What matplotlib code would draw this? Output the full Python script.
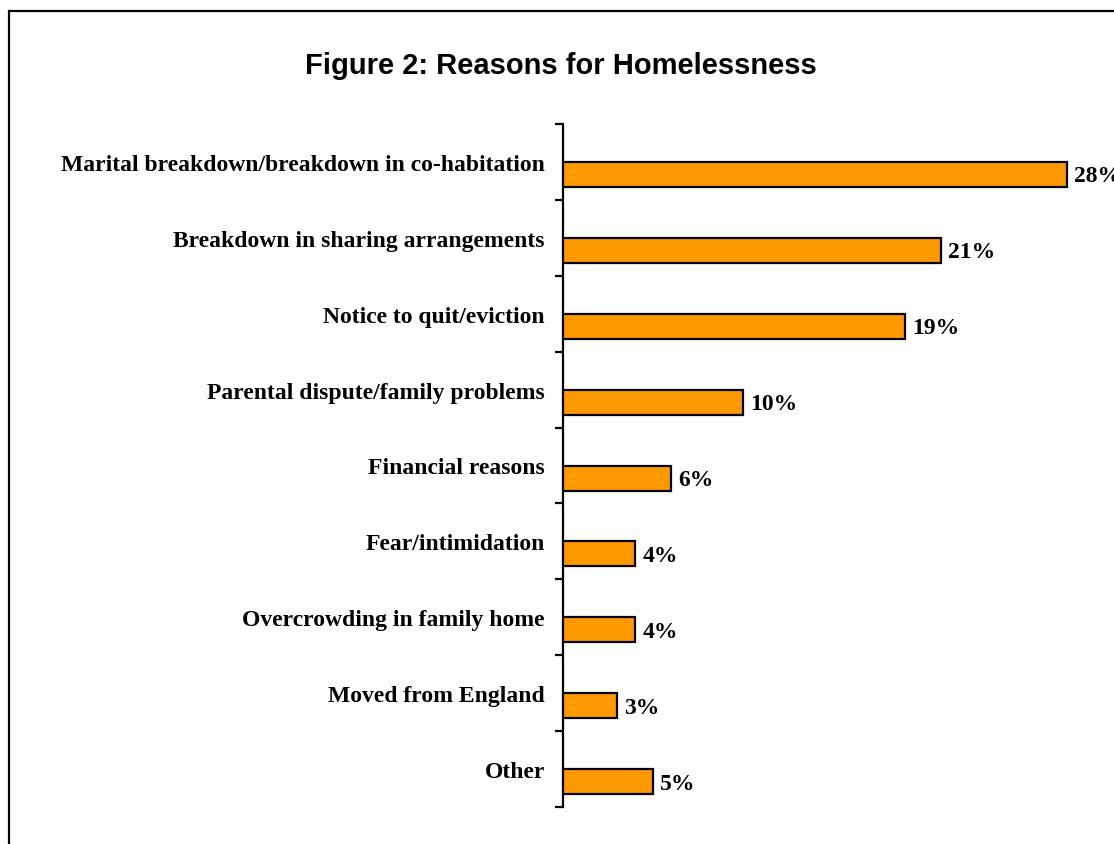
import matplotlib
matplotlib.use("Agg")
import matplotlib.pyplot as plt
from matplotlib.patches import Rectangle
import numpy as np

categories = [
    "Marital breakdown/breakdown in co-habitation",
    "Breakdown in sharing arrangements",
    "Notice to quit/eviction",
    "Parental dispute/family problems",
    "Financial reasons",
    "Fear/intimidation",
    "Overcrowding in family home",
    "Moved from England",
    "Other",
]
values = [28, 21, 19, 10, 6, 4, 4, 3, 5]
value_labels = ["28%", "21%", "19%", "10%", "6%", "4%", "4%", "3%", "5%"]

W, H = 1114, 845
fig = plt.figure(figsize=(W / 100, H / 100), dpi=100)
fig.patch.set_facecolor("white")

# border frame (open on right/bottom, cut by image edge as in the reference)
fig.patches.append(Rectangle((9 / W, -0.1), 1.2, 1 - 12 / H + 0.1, transform=fig.transFigure,
                             fill=False, edgecolor="black", linewidth=1.6, zorder=0))

ax = fig.add_axes([563 / W, 1 - 808 / H, 540 / W, (808 - 125) / H])
n = len(categories)
y = np.arange(n)
bar_h = 0.33
ax.barh(y + bar_h / 2, values, height=bar_h, color="#FF9900", edgecolor="black",
        linewidth=1.6, zorder=3)
ax.set_ylim(n - 0.5, -0.5)
ax.set_xlim(0, 30)

serif = ["Liberation Serif", "DejaVu Serif"]
for yi, v, lab in zip(y, values, value_labels):
    ax.text(v + 0.4, yi + bar_h / 2 + 0.02, lab, va="center", ha="left",
            fontsize=17, fontweight="bold", family=serif, clip_on=False)

ax.set_yticks(y)
ax.set_yticklabels(categories, fontsize=17, fontweight="bold", family=serif)
ax.tick_params(axis="y", which="major", length=0, pad=13)
ax.set_yticks(np.arange(-0.5, n, 1.0), minor=True)
ax.tick_params(axis="y", which="minor", length=6, width=1.6, direction="out")
ax.set_xticks([])
for s in ["top", "right", "bottom"]:
    ax.spines[s].set_visible(False)
ax.spines["left"].set_linewidth(1.6)

fig.text(561 / W, 1 - 66 / H, "Figure 2: Reasons for Homelessness", ha="center", va="center",
         fontsize=21, fontweight="bold", family=["Liberation Sans", "DejaVu Sans"])

fig.savefig("out.png", dpi=100)
